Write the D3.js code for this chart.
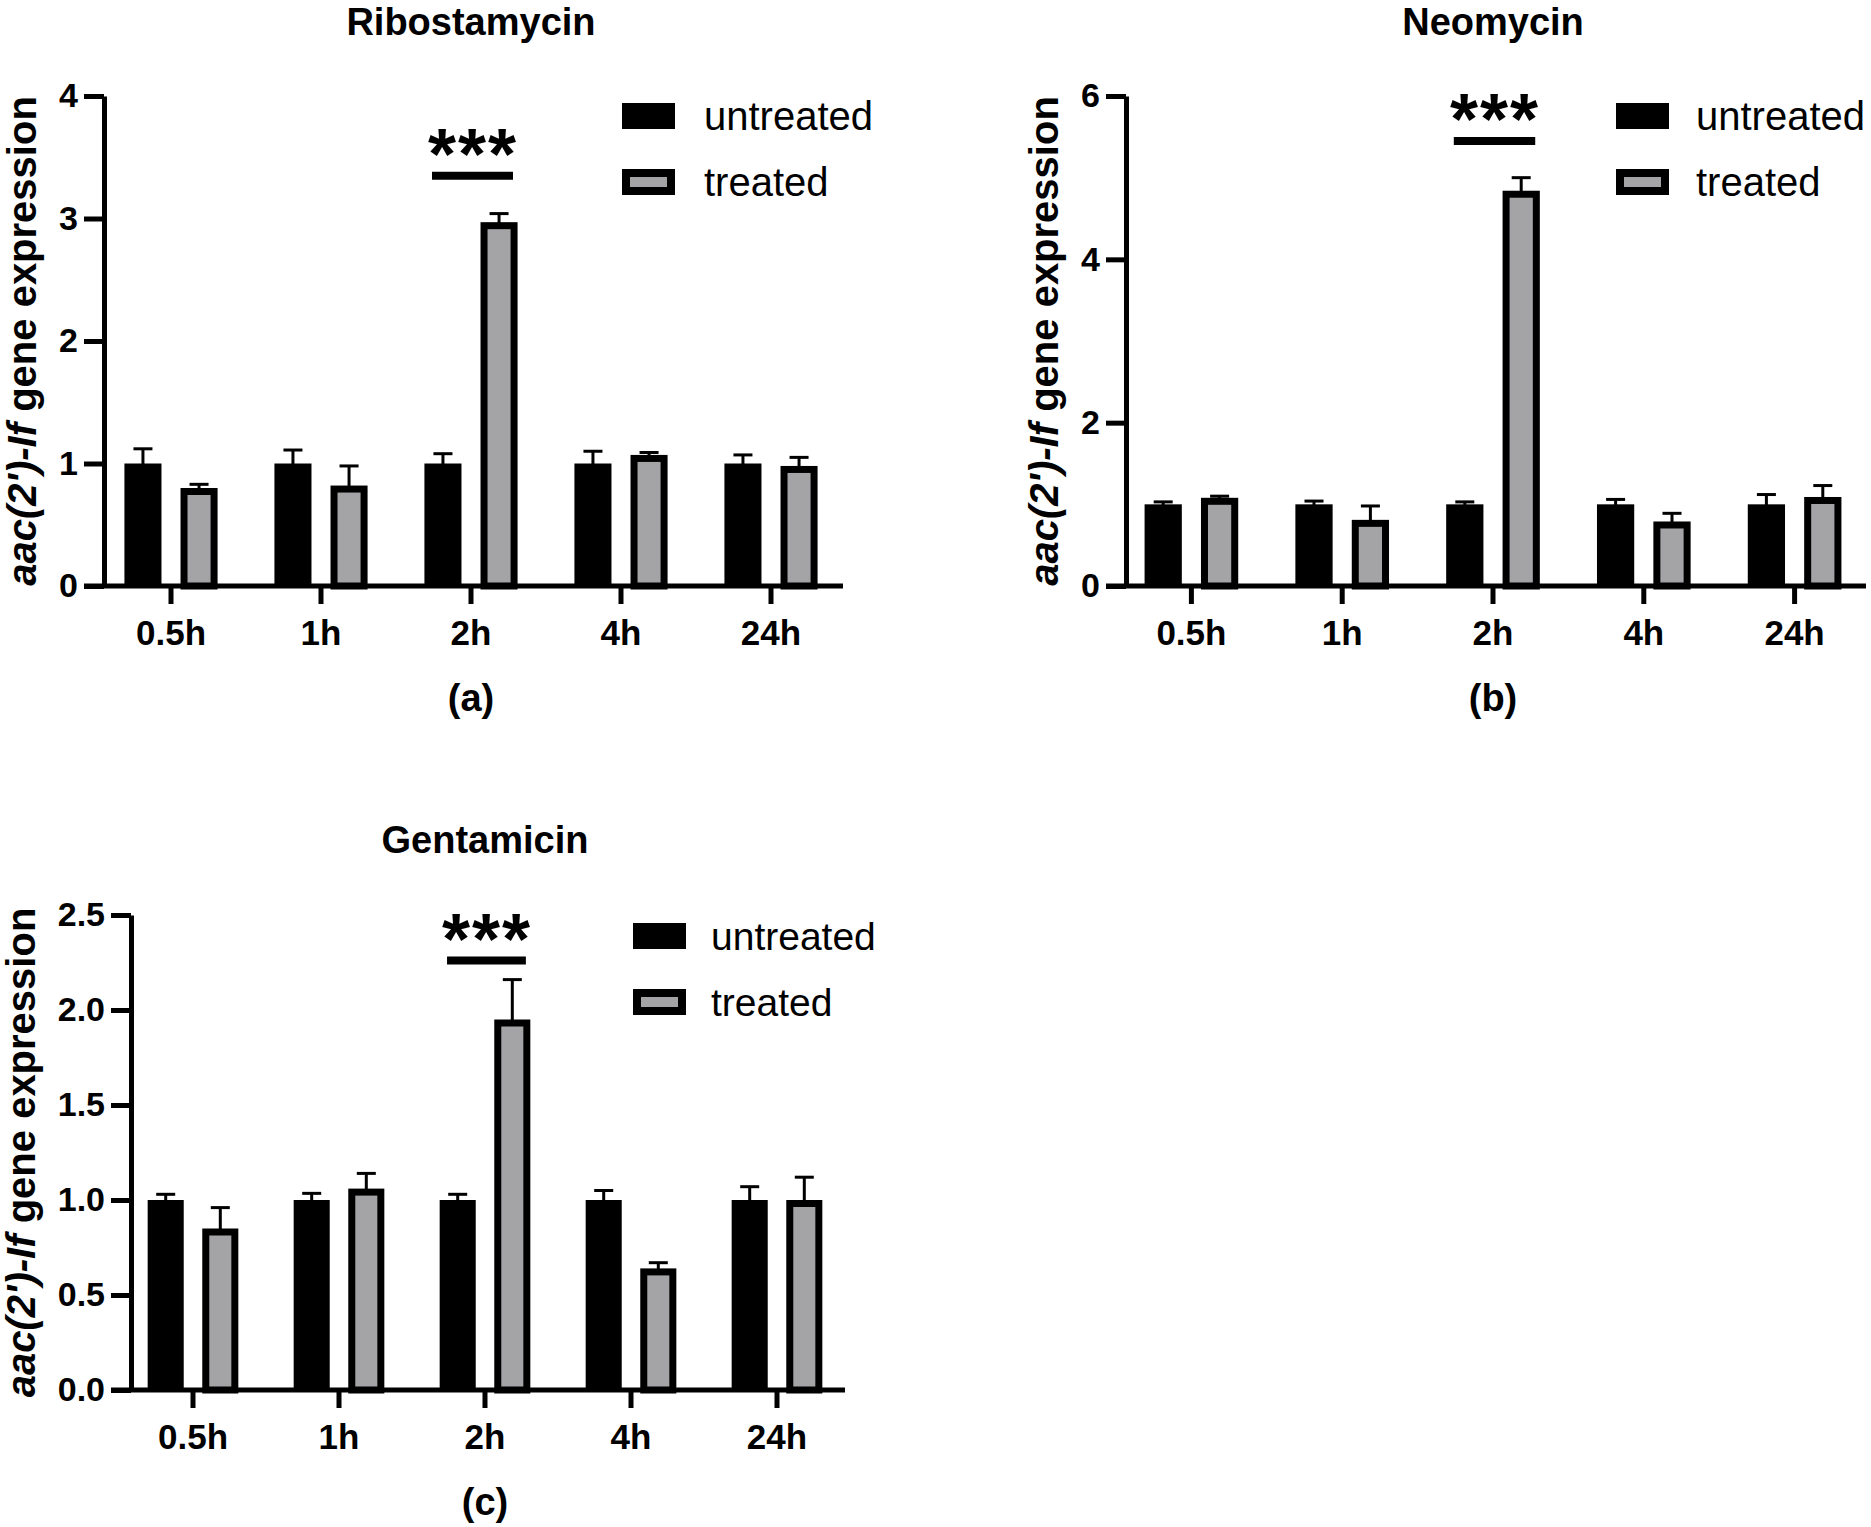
<!DOCTYPE html>
<html>
<head>
<meta charset="utf-8">
<script src="https://cdn.jsdelivr.net/npm/d3@7"></script>
<style>
  body { margin: 0; background: #fff; }
  svg text { font-family: "Liberation Sans", Arial, sans-serif; fill: #000; }
</style>
</head>
<body>
<div id="graphic"></div>
<script>
// categories and values
const categories = ['0.5h', '1h', '2h', '4h', '24h'];

const ribUntreated = [1, 1, 1, 1, 1];
const ribUntreatedErr = [0.12, 0.11, 0.08, 0.10, 0.07];
const ribTreated = [0.80, 0.82, 2.97, 1.07, 0.98];
const ribTreatedErr = [0.03, 0.16, 0.07, 0.02, 0.07];
const ribTicks = [0, 1, 2, 3, 4];

const neoUntreated = [1, 1, 1, 1, 1];
const neoUntreatedErr = [0.03, 0.04, 0.03, 0.06, 0.12];
const neoTreated = [1.08, 0.81, 4.84, 0.79, 1.09];
const neoTreatedErr = [0.02, 0.17, 0.16, 0.10, 0.14];
const neoTicks = [0, 2, 4, 6];

const genUntreated = [1, 1, 1, 1, 1];
const genUntreatedErr = [0.03, 0.035, 0.03, 0.05, 0.07];
const genTreated = [0.85, 1.06, 1.95, 0.64, 1.00];
const genTreatedErr = [0.11, 0.08, 0.21, 0.03, 0.12];
const genTicks = [0, 0.5, 1.0, 1.5, 2.0, 2.5];

const seriesNames = ['untreated', 'treated'];
const sigCategory = '2h';
const sigLevels = [3.35, 5.45, 2.26];

const grey = '#a4a4a7';

const svg = d3.select('#graphic')
	.append('svg')
	.attr('width', 1871)
	.attr('height', 1527)
	.style('background-color', '#fff');

const panels = [
	{
		title: 'Ribostamycin', tag: '(a)',
		untreated: ribUntreated, untreatedErr: ribUntreatedErr,
		treated: ribTreated, treatedErr: ribTreatedErr,
		ticks: ribTicks, fmt: d3.format('d'), sig: sigLevels[0],
		axisX: 104, y0: 586, yTop: 96, xRange: [96, 846], xEnd: 843,
		titleY: 35, labelX: 36, legendX: 622, legendY: 103, legendDx: 82, legendSize: 40
	},
	{
		title: 'Neomycin', tag: '(b)',
		untreated: neoUntreated, untreatedErr: neoUntreatedErr,
		treated: neoTreated, treatedErr: neoTreatedErr,
		ticks: neoTicks, fmt: d3.format('d'), sig: sigLevels[1],
		axisX: 1126, y0: 586, yTop: 96, xRange: [1116, 1870], xEnd: 1866,
		titleY: 35, labelX: 1058, legendX: 1616, legendY: 103, legendDx: 80, legendSize: 40
	},
	{
		title: 'Gentamicin', tag: '(c)',
		untreated: genUntreated, untreatedErr: genUntreatedErr,
		treated: genTreated, treatedErr: genTreatedErr,
		ticks: genTicks, fmt: d3.format('.1f'), sig: sigLevels[2],
		axisX: 131, y0: 1390, yTop: 915, xRange: [120, 850], xEnd: 845,
		titleY: 853, labelX: 35, legendX: 633, legendY: 923, legendDx: 78, legendSize: 39
	}
];

panels.forEach(drawPanel);

function drawPanel(p) {
	const g = svg.append('g');
	const ymax = p.ticks[p.ticks.length - 1];

	const x = d3.scaleBand().domain(categories).range(p.xRange);
	const y = d3.scaleLinear().domain([0, ymax]).range([p.y0, p.yTop]);

	const bw = x.bandwidth() * 0.247;
	const off = x.bandwidth() * 0.187;
	const sw = 7;
	const cx = (d, s) => x(d) + x.bandwidth() / 2 + (s === 0 ? -off : off);

	const rows = categories.map((c, i) => ({
		cat: c,
		u: p.untreated[i], ue: p.untreatedErr[i],
		t: p.treated[i], te: p.treatedErr[i]
	}));

	// error bars (upper only)
	const err = g.append('g').attr('stroke', '#000').attr('stroke-width', 3);
	rows.forEach((d) => {
		[[d.u, d.ue], [d.t, d.te]].forEach(([v, e], s) => {
			const c = cx(d.cat, s);
			err.append('line')
				.attr('x1', c).attr('x2', c)
				.attr('y1', y(v) + 4).attr('y2', y(v + e));
			err.append('line')
				.attr('x1', c - 9.5).attr('x2', c + 9.5)
				.attr('y1', y(v + e)).attr('y2', y(v + e));
		});
	});

	// bars
	g.selectAll('rect.untreated')
		.data(rows)
		.join('rect')
		.attr('class', 'untreated')
		.attr('x', (d) => cx(d.cat, 0) - bw / 2)
		.attr('y', (d) => y(d.u))
		.attr('width', bw)
		.attr('height', (d) => p.y0 - y(d.u))
		.attr('fill', '#000');

	g.selectAll('rect.treated')
		.data(rows)
		.join('rect')
		.attr('class', 'treated')
		.attr('x', (d) => cx(d.cat, 1) - bw / 2 + sw / 2)
		.attr('y', (d) => y(d.t) + sw / 2)
		.attr('width', bw - sw)
		.attr('height', (d) => p.y0 - y(d.t) - sw / 2)
		.attr('fill', grey)
		.attr('stroke', '#000')
		.attr('stroke-width', sw);

	// y axis
	const yAxis = d3.axisLeft(y)
		.tickValues(p.ticks)
		.tickFormat(p.fmt)
		.tickSize(20)
		.tickSizeOuter(0)
		.tickPadding(6);

	const ya = g.append('g')
		.attr('transform', 'translate(' + p.axisX + ',0)')
		.call(yAxis);
	ya.select('.domain').attr('stroke-width', 5);
	ya.selectAll('line').attr('stroke-width', 5);
	ya.selectAll('text')
		.style('font-size', '34px')
		.style('font-weight', 'bold');

	// x axis
	const xAxis = d3.axisBottom(x)
		.tickSize(18)
		.tickSizeOuter(0)
		.tickPadding(16);

	const xa = g.append('g')
		.attr('transform', 'translate(0,' + p.y0 + ')')
		.call(xAxis);
	xa.select('.domain')
		.attr('d', 'M' + (p.axisX - 20) + ',0H' + p.xEnd)
		.attr('stroke-width', 5);
	xa.selectAll('line').attr('stroke-width', 5);
	xa.selectAll('text')
		.style('font-size', '35px')
		.style('font-weight', 'bold');

	const midX = x(sigCategory) + x.bandwidth() / 2;

	// title
	g.append('text')
		.attr('x', midX)
		.attr('y', p.titleY)
		.attr('text-anchor', 'middle')
		.style('font-size', '38px')
		.style('font-weight', 'bold')
		.text(p.title);

	// panel tag
	g.append('text')
		.attr('x', midX)
		.attr('y', p.y0 + 125)
		.attr('text-anchor', 'middle')
		.style('font-size', '38px')
		.style('font-weight', 'bold')
		.text(p.tag);

	// y axis label
	const lab = g.append('text')
		.attr('transform', 'translate(' + p.labelX + ',' + (p.y0 + p.yTop) / 2 + ') rotate(-90)')
		.attr('text-anchor', 'middle')
		.style('font-size', '40px')
		.style('font-weight', 'bold');
	lab.append('tspan').style('font-style', 'italic').text("aac(2')-If");
	lab.append('tspan').text(' gene expression');

	// significance bar
	const k = x.bandwidth() / 150;
	g.append('line')
		.attr('x1', midX - 39 * k)
		.attr('x2', midX + 42 * k)
		.attr('y1', y(p.sig))
		.attr('y2', y(p.sig))
		.attr('stroke', '#000')
		.attr('stroke-width', 8);
	g.append('text')
		.attr('x', midX + 2)
		.attr('y', y(p.sig) + 3)
		.attr('text-anchor', 'middle')
		.style('font-size', '72px')
		.style('font-weight', 'bold')
		.style('letter-spacing', '2px')
		.text('***');

	// legend
	const leg = g.append('g');
	seriesNames.forEach((name, i) => {
		const ly = p.legendY + i * 66;
		if (i === 0) {
			leg.append('rect')
				.attr('x', p.legendX).attr('y', ly)
				.attr('width', 53).attr('height', 26)
				.attr('fill', '#000');
		} else {
			leg.append('rect')
				.attr('x', p.legendX + 4).attr('y', ly + 4)
				.attr('width', 45).attr('height', 18)
				.attr('fill', grey)
				.attr('stroke', '#000')
				.attr('stroke-width', 8);
		}
		leg.append('text')
			.attr('x', p.legendX + p.legendDx)
			.attr('y', ly + 27)
			.style('font-size', p.legendSize + 'px')
			.text(name);
	});
}
</script>
</body>
</html>
